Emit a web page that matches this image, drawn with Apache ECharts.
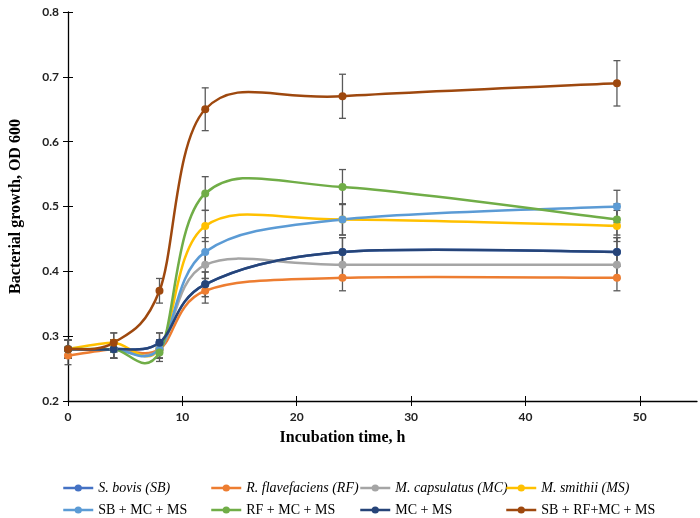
<!DOCTYPE html>
<html>
<head>
<meta charset="utf-8">
<script src="https://cdn.jsdelivr.net/npm/echarts@6/dist/echarts.min.js"></script>
<style>
  html, body { margin: 0; padding: 0; background: #fff; }
  #chart { width: 700px; height: 518px; }
</style>
</head>
<body>
<div id="chart"></div>
<script>
// sampling times, h
const hours = [0, 4, 8, 12, 24, 48];

const names = [
  'S. bovis (SB)', 'R. flavefaciens (RF)', 'M. capsulatus (MC)', 'M. smithii (MS)',
  'SB + MC + MS', 'RF + MC + MS', 'MC + MS', 'SB + RF+MC + MS'
];
const italicNames = ['S. bovis (SB)', 'R. flavefaciens (RF)', 'M. capsulatus (MC)', 'M. smithii (MS)'];
const colors = ['#4472C4', '#ED7D31', '#A5A5A5', '#FFC000', '#5B9BD5', '#70AD47', '#264478', '#9E480E'];

// OD 600 readings
const sb      = [0.28, 0.28, 0.29, 0.38, 0.43, 0.43];
const rf      = [0.27, 0.28, 0.28, 0.37, 0.39, 0.39];
const mc      = [0.28, 0.28, 0.28, 0.41, 0.41, 0.41];
const ms      = [0.28, 0.29, 0.28, 0.47, 0.48, 0.47];
const sbMcMs  = [0.28, 0.28, 0.28, 0.43, 0.48, 0.50];
const rfMcMs  = [0.28, 0.28, 0.275, 0.52, 0.53, 0.48];
const mcMs    = [0.28, 0.28, 0.29, 0.38, 0.43, 0.43];
const allFour = [0.28, 0.29, 0.37, 0.65, 0.67, 0.69];

// error bar half-lengths
const sbErr      = [0.014, 0.014, 0.015, 0.019, 0.022, 0.022];
const rfErr      = [0.014, 0.014, 0.014, 0.019, 0.020, 0.020];
const mcErr      = [0.014, 0.014, 0.014, 0.021, 0.021, 0.021];
const msErr      = [0.014, 0.015, 0.014, 0.024, 0.024, 0.024];
const sbMcMsErr  = [0.014, 0.014, 0.014, 0.022, 0.024, 0.025];
const rfMcMsErr  = [0.014, 0.014, 0.014, 0.026, 0.027, 0.024];
const mcMsErr    = [0.014, 0.014, 0.015, 0.019, 0.022, 0.022];
const allFourErr = [0.014, 0.015, 0.019, 0.033, 0.034, 0.035];

const xTicks = [0, 10, 20, 30, 40, 50];

const values = [sb, rf, mc, ms, sbMcMs, rfMcMs, mcMs, allFour];
const errors = [sbErr, rfErr, mcErr, msErr, sbMcMsErr, rfMcMsErr, mcMsErr, allFourErr];

const labelFont = { fontFamily: 'Lato', fontWeight: 'bold', fontSize: 12, color: '#222' };
const serif = 'Liberation Serif';

var chart = echarts.init(document.getElementById('chart'));

var series = [];
// error bars first so the lines sit on top
values.forEach(function (vals, i) {
  series.push({
    type: 'custom',
    name: names[i] + ' err',
    z: 1,
    silent: true,
    data: hours.map(function (h, k) { return [h, vals[k] - errors[i][k], vals[k] + errors[i][k]]; }),
    encode: { x: 0, y: [1, 2] },
    renderItem: function (params, api) {
      var top = api.coord([api.value(0), api.value(2)]);
      var bot = api.coord([api.value(0), api.value(1)]);
      var w = 3.5;
      var st = { stroke: '#595959', lineWidth: 1.3 };
      return {
        type: 'group',
        children: [
          { type: 'line', shape: { x1: top[0], y1: top[1], x2: bot[0], y2: bot[1] }, style: st },
          { type: 'line', shape: { x1: top[0] - w, y1: top[1], x2: top[0] + w, y2: top[1] }, style: st },
          { type: 'line', shape: { x1: bot[0] - w, y1: bot[1], x2: bot[0] + w, y2: bot[1] }, style: st }
        ]
      };
    }
  });
});

// smoothed curves, Excel-style (Catmull-Rom, 1/6 tangents) in pixel space
values.forEach(function (vals, i) {
  series.push({
    type: 'custom',
    name: names[i] + ' curve',
    z: 2,
    silent: true,
    data: hours.map(function (h, k) { return [h, vals[k]]; }),
    encode: { x: 0, y: 1 },
    renderItem: function (params, api) {
      var k = params.dataIndex;
      if (k >= hours.length - 1) return null;
      var pt = function (j) {
        j = Math.max(0, Math.min(hours.length - 1, j));
        return api.coord([hours[j], vals[j]]);
      };
      var p0 = pt(k - 1), p1 = pt(k), p2 = pt(k + 1), p3 = pt(k + 2);
      return {
        type: 'bezierCurve',
        shape: {
          x1: p1[0], y1: p1[1], x2: p2[0], y2: p2[1],
          cpx1: p1[0] + (p2[0] - p0[0]) / 6, cpy1: p1[1] + (p2[1] - p0[1]) / 6,
          cpx2: p2[0] - (p3[0] - p1[0]) / 6, cpy2: p2[1] - (p3[1] - p1[1]) / 6
        },
        style: { stroke: colors[i], lineWidth: 2.5, fill: null }
      };
    }
  });
});

// markers (and legend entries)
values.forEach(function (vals, i) {
  series.push({
    type: 'line',
    name: names[i],
    z: 3,
    symbol: 'circle',
    symbolSize: 8,
    color: colors[i],
    lineStyle: { width: 0, color: colors[i] },
    itemStyle: { color: colors[i] },
    data: hours.map(function (h, k) { return [h, vals[k]]; })
  });
});

function legendCol(left, pair) {
  return {
    orient: 'vertical',
    left: left,
    top: 480,
    itemWidth: 30,
    itemHeight: 9,
    itemGap: 6,
    padding: 0,
    data: pair,
    lineStyle: { width: 2.5 },
    formatter: function (n) { return italicNames.indexOf(n) >= 0 ? '{i|' + n + '}' : n; },
    textStyle: {
      fontFamily: serif, fontSize: 14, color: '#000', lineHeight: 16,
      rich: { i: { fontFamily: serif, fontStyle: 'italic', fontSize: 14, color: '#000', lineHeight: 16 } }
    }
  };
}

var option = {
  animation: false,
  backgroundColor: '#fff',
  grid: { left: 65, right: 3, top: 12, bottom: 117 },
  legend: [
    legendCol(62, [names[0], names[4]]),
    legendCol(210, [names[1], names[5]]),
    legendCol(359, [names[2], names[6]]),
    legendCol(505, [names[3], names[7]])
  ],
  xAxis: [{
    type: 'value',
    min: 0,
    max: 55,
    interval: 10,
    name: 'Incubation time, h',
    nameLocation: 'middle',
    nameGap: 29,
    nameTextStyle: { fontFamily: serif, fontWeight: 'bold', fontSize: 16, color: '#000', padding: [0, 80, 0, 0] },
    axisLine: { lineStyle: { color: '#000', width: 1.3 } },
    axisTick: { length: 5, lineStyle: { color: '#000' }, customValues: xTicks },
    axisLabel: Object.assign({ margin: 10, customValues: xTicks }, labelFont),
    splitLine: { show: false }
  }, {
    type: 'value',
    position: 'bottom',
    min: 0,
    max: 55,
    interval: 10,
    axisLine: { show: false },
    axisTick: { inside: true, length: 5, lineStyle: { color: '#000' }, customValues: xTicks },
    axisLabel: { show: false },
    splitLine: { show: false }
  }],
  yAxis: [{
    type: 'value',
    min: 0.2,
    max: 0.8,
    interval: 0.1,
    name: 'Bacterial growth, OD 600',
    nameLocation: 'middle',
    nameGap: 44,
    nameTextStyle: { fontFamily: serif, fontWeight: 'bold', fontSize: 16, color: '#000' },
    axisLine: { show: true, lineStyle: { color: '#000', width: 1.3 } },
    axisTick: { show: true, length: 5, lineStyle: { color: '#000' } },
    axisLabel: Object.assign({ margin: 9, formatter: function (v) { return v.toFixed(1); } }, labelFont),
    splitLine: { show: false }
  }, {
    type: 'value',
    position: 'left',
    min: 0.2,
    max: 0.8,
    interval: 0.1,
    axisLine: { show: false },
    axisTick: { show: true, inside: true, length: 5, lineStyle: { color: '#000' } },
    axisLabel: { show: false },
    splitLine: { show: false }
  }],
  series: series
};

chart.setOption(option);
</script>
</body>
</html>
